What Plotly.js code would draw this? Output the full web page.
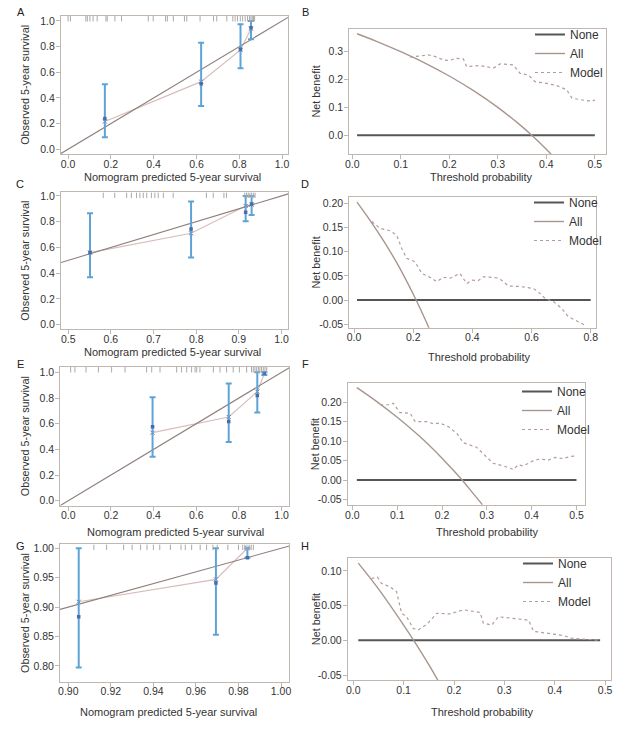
<!DOCTYPE html>
<html><head><meta charset="utf-8">
<script src="https://cdn.plot.ly/plotly-3.0.1.min.js"></script>
<style>html,body{margin:0;padding:0;background:#fff}#chart{width:633px;height:733px}</style>
</head><body><div id="chart"></div>
<script>
// ---------- Calibration data (A, C, E, G) ----------
const predA = [0.172, 0.622, 0.806, 0.855];
const obsA  = [0.240, 0.510, 0.780, 0.948];
const loA   = [0.094, 0.338, 0.631, 0.857];
const hiA   = [0.506, 0.831, 0.974, 1.000];
const corrA = [0.216, 0.527, 0.774, 0.940];
const rugA  = [0.0, 0.011, 0.083, 0.09, 0.102, 0.117, 0.136, 0.177, 0.183, 0.219, 0.25, 0.375, 0.398, 0.456, 0.464, 0.492, 0.544, 0.555, 0.617, 0.68, 0.695, 0.742, 0.77, 0.781, 0.792, 0.805, 0.816, 0.828, 0.839, 0.848, 0.855, 0.861, 0.867, 0.872];

const predC = [0.551, 0.788, 0.916, 0.930];
const obsC  = [0.560, 0.744, 0.873, 0.938];
const loC   = [0.368, 0.521, 0.803, 0.852];
const hiC   = [0.865, 0.956, 1.000, 1.000];
const corrC = [0.560, 0.710, 0.922, 0.932];
const rugC  = [0.582, 0.609, 0.637, 0.648, 0.66, 0.668, 0.676, 0.684, 0.695, 0.703, 0.711, 0.723, 0.746, 0.824, 0.84, 0.865, 0.871, 0.914, 0.918, 0.922, 0.926, 0.93, 0.934, 0.938];

const predE = [0.395, 0.752, 0.886, 0.919];
const obsE  = [0.577, 0.618, 0.820, 0.995];
const loE   = [0.343, 0.457, 0.688, 0.980];
const hiE   = [0.805, 0.914, 1.000, 1.000];
const corrE = [0.530, 0.652, 0.850, 0.990];
const rugE  = [0.011, 0.031, 0.083, 0.141, 0.203, 0.266, 0.367, 0.391, 0.43, 0.508, 0.531, 0.555, 0.578, 0.594, 0.602, 0.617, 0.68, 0.711, 0.742, 0.773, 0.802, 0.836, 0.859, 0.867, 0.875, 0.883, 0.891, 0.898, 0.906, 0.914, 0.922, 0.93];

const predG = [0.9049, 0.9694, 0.9842];
const obsG  = [0.8835, 0.941, 0.984];
const loG   = [0.797, 0.853, 0.984];
const hiG   = [1.000, 1.000, 1.000];
const corrG = [0.909, 0.947, 1.000];
const rugG  = [0.912, 0.918, 0.926, 0.93, 0.934, 0.937, 0.94, 0.943, 0.948, 0.953, 0.955, 0.958, 0.962, 0.965, 0.968, 0.97, 0.975, 0.98, 0.982, 0.983, 0.984, 0.985, 0.986, 0.987];

// ---------- Decision curve data (B, D, F, H) ----------
const noneB = {x: [0.01, 0.5], y: [0, 0]};
const allBx = [0.01, 0.05, 0.1, 0.15, 0.2, 0.25, 0.3, 0.35, 0.37, 0.4, 0.41];
const allBy = [0.364, 0.337, 0.300, 0.259, 0.2125, 0.160, 0.100, 0.031, 0.0, -0.050, -0.068];
const modBx = [0.119, 0.14, 0.157, 0.17, 0.188, 0.2, 0.215, 0.229, 0.236, 0.263, 0.291, 0.305, 0.332, 0.346, 0.363, 0.377, 0.401, 0.422, 0.442, 0.453, 0.477, 0.494, 0.5];
const modBy = [0.280, 0.283, 0.288, 0.283, 0.270, 0.268, 0.276, 0.274, 0.246, 0.250, 0.241, 0.256, 0.252, 0.222, 0.216, 0.192, 0.186, 0.178, 0.163, 0.133, 0.127, 0.121, 0.127];

const noneD = {x: [0.01, 0.8], y: [0, 0]};
const allDx = [0.01, 0.05, 0.1, 0.15, 0.2, 0.21, 0.25, 0.26];
const allDy = [0.202, 0.168, 0.122, 0.071, 0.0125, 0.0, -0.053, -0.068];
const modDx = [0.06, 0.088, 0.122, 0.144, 0.161, 0.178, 0.206, 0.229, 0.263, 0.279, 0.302, 0.325, 0.358, 0.381, 0.398, 0.42, 0.437, 0.482, 0.499, 0.522, 0.561, 0.606, 0.623, 0.646, 0.674, 0.702, 0.724, 0.758, 0.781];
const modDy = [0.162, 0.148, 0.143, 0.134, 0.107, 0.086, 0.079, 0.055, 0.045, 0.038, 0.047, 0.045, 0.055, 0.034, 0.041, 0.040, 0.048, 0.046, 0.041, 0.029, 0.028, 0.024, 0.017, 0.003, -0.003, -0.017, -0.034, -0.045, -0.052];

const noneF = {x: [0.01, 0.5], y: [0, 0]};
const allFx = [0.01, 0.05, 0.1, 0.15, 0.2, 0.245, 0.25, 0.285, 0.29];
const allFy = [0.237, 0.205, 0.161, 0.112, 0.056, 0.0, -0.007, -0.056, -0.063];
const modFx = [0.062, 0.084, 0.091, 0.106, 0.129, 0.14, 0.166, 0.181, 0.195, 0.214, 0.233, 0.247, 0.277, 0.292, 0.314, 0.337, 0.359, 0.37, 0.381, 0.403, 0.418, 0.437, 0.452, 0.47, 0.485, 0.5];
const modFy = [0.193, 0.193, 0.197, 0.173, 0.171, 0.150, 0.150, 0.144, 0.146, 0.137, 0.120, 0.096, 0.084, 0.067, 0.043, 0.036, 0.027, 0.039, 0.036, 0.049, 0.054, 0.051, 0.058, 0.055, 0.060, 0.062];

const noneH = {x: [0.01, 0.49], y: [0, 0]};
const allHx = [0.01, 0.05, 0.1, 0.12, 0.15, 0.17];
const allHy = [0.111, 0.074, 0.022, 0.0, -0.035, -0.060];
const modHx = [0.036, 0.048, 0.056, 0.073, 0.086, 0.096, 0.106, 0.119, 0.129, 0.146, 0.166, 0.192, 0.219, 0.232, 0.252, 0.258, 0.275, 0.288, 0.318, 0.348, 0.358, 0.384, 0.417, 0.434, 0.464, 0.49];
const modHy = [0.089, 0.091, 0.082, 0.077, 0.070, 0.039, 0.034, 0.017, 0.015, 0.023, 0.039, 0.038, 0.044, 0.042, 0.040, 0.025, 0.022, 0.034, 0.032, 0.029, 0.013, 0.010, 0.007, 0.003, 0.0015, 0.0];

// ---------- Layout geometry ----------
const W = 633, H = 733;
const FONT = 'Liberation Sans, Arial, sans-serif';
const TXT = '#333333';
const FRAME = '#bfb7b0';
const frames = {
  1: [61, 288, 15.7, 154], 2: [349.3, 606, 29, 154],
  3: [61, 288.3, 192.3, 329], 4: [349.3, 596, 197.3, 327.7],
  5: [60.3, 289.3, 366.7, 505.7], 6: [347.7, 585, 383.3, 505],
  7: [60, 289.3, 544.3, 681.7], 8: [347.7, 610.7, 558.3, 680]
};
const xr = {1: [-0.033, 1.028], 2: [-0.006, 0.523], 3: [0.483, 1.016], 4: [-0.016, 0.818],
            5: [-0.0375, 1.036], 6: [-0.0104, 0.519], 7: [0.8961, 1.0039], 8: [-0.011, 0.511]};
const yr = {1: [-0.037, 1.041], 2: [-0.067, 0.381], 3: [-0.033, 1.028], 4: [-0.057, 0.212],
            5: [-0.039, 1.044], 6: [-0.064, 0.248], 7: [0.773, 1.0068], 8: [-0.057, 0.118]};
const xt = {1: [0, 1, 0.2, 1], 2: [0, 0.5, 0.1, 1], 3: [0.5, 1, 0.1, 1], 4: [0, 0.8, 0.2, 1],
            5: [0, 1, 0.2, 1], 6: [0, 0.5, 0.1, 1], 7: [0.9, 1, 0.02, 2], 8: [0, 0.5, 0.1, 1]};
const yt = {1: [0, 1, 0.2, 1], 2: [0, 0.3, 0.1, 1], 3: [0, 1, 0.2, 1], 4: [-0.05, 0.2, 0.05, 2],
            5: [0, 1, 0.2, 1], 6: [-0.05, 0.2, 0.05, 2], 7: [0.8, 1, 0.05, 2], 8: [-0.05, 0.1, 0.05, 2]};
// axis title centres (px): [x-title cx, x-title cy, y-title cx]
const titlePos = {1: [172, 177, 25], 2: [481.5, 177, 315], 3: [172, 352.5, 25], 4: [479.7, 357, 315],
                  5: [175.3, 532, 25], 6: [487, 532, 315], 7: [168.3, 712, 25], 8: [482, 712, 316]};

const titleX = {cal: 'Nomogram predicted 5-year survival', dca: 'Threshold probability'};
const titleY = {cal: 'Observed 5-year survival', dca: 'Net benefit'};

function ticks(spec) {
  const [a, b, s, d] = spec; const v = [];
  for (let k = 0; a + k * s <= b + 1e-9; k++) v.push(+(a + k * s).toFixed(4));
  return {tickvals: v, ticktext: v.map(t => t.toFixed(d))};
}

const layout = {
  width: W, height: H, margin: {l: 0, r: 0, t: 0, b: 0},
  paper_bgcolor: '#ffffff', plot_bgcolor: '#ffffff',
  font: {family: FONT, size: 11, color: TXT},
  showlegend: true, annotations: []
};

for (let i = 1; i <= 8; i++) {
  const f = frames[i];
  const kind = (i % 2 === 1) ? 'cal' : 'dca';
  const common = {
    showline: true, mirror: true, linecolor: FRAME, linewidth: 1,
    ticks: 'outside', ticklen: 4, tickcolor: FRAME, showgrid: false, zeroline: false,
    tickfont: {family: FONT, size: 10.5, color: TXT}, fixedrange: true, tickmode: 'array'
  };
  layout['xaxis' + (i === 1 ? '' : i)] = Object.assign({}, common, ticks(xt[i]), {
    domain: [f[0] / W, f[1] / W], range: xr[i], anchor: 'y' + (i === 1 ? '' : i), ticklabelstandoff: -4});
  layout['yaxis' + (i === 1 ? '' : i)] = Object.assign({}, common, ticks(yt[i]), {
    domain: [1 - f[3] / H, 1 - f[2] / H], range: yr[i], anchor: 'x' + (i === 1 ? '' : i), ticklabelstandoff: -1});
  const tp = titlePos[i];
  layout.annotations.push({text: titleX[kind], xref: 'paper', yref: 'paper', x: tp[0] / W, y: 1 - tp[1] / H,
    xanchor: 'center', yanchor: 'middle', showarrow: false, font: {family: FONT, size: 11, color: TXT}});
  layout.annotations.push({text: titleY[kind], xref: 'paper', yref: 'paper', x: tp[2] / W, y: 1 - (f[2] + f[3]) / 2 / H,
    xanchor: 'center', yanchor: 'middle', textangle: -90, showarrow: false, font: {family: FONT, size: 10.8, color: TXT}});
}

const letters = ['A', 'B', 'C', 'D', 'E', 'F', 'G', 'H'];
const letterPos = [[21, 12], [305, 12], [20, 184], [305, 184], [20, 364], [305, 364], [20, 546], [305, 546]];
letters.forEach((L, k) => {
  layout.annotations.push({text: L, xref: 'paper', yref: 'paper', x: letterPos[k][0] / W, y: 1 - letterPos[k][1] / H,
    xanchor: 'center', yanchor: 'middle', showarrow: false, font: {family: FONT, size: 11, color: '#222'}});
});

const traces = [];
function ax(i) { return {xaxis: 'x' + (i === 1 ? '' : i), yaxis: 'y' + (i === 1 ? '' : i)}; }

function calPanel(i, pred, obs, lo, hi, corr, rug) {
  const r = xr[i], ry = yr[i];
  const f = frames[i];
  const pxY = (ry[1] - ry[0]) / (f[3] - f[2]);
  traces.push(Object.assign({type: 'scatter', mode: 'lines+markers', x: pred, y: corr, showlegend: false,
    line: {color: '#d8bcbc', width: 1.2}, marker: {symbol: 'x-thin', size: 4, line: {color: '#6c6c9c', width: 1}},
    hoverinfo: 'skip'}, ax(i)));
  traces.push(Object.assign({type: 'scatter', mode: 'lines', x: r, y: r, showlegend: false,
    line: {color: '#8e7f7a', width: 1.1}, hoverinfo: 'skip'}, ax(i)));
  traces.push(Object.assign({type: 'scatter', mode: 'markers', x: pred, y: obs, showlegend: false,
    marker: {symbol: 'square', size: 3.5, color: '#4a6aa8'},
    error_y: {type: 'data', symmetric: false, array: hi.map((h, k) => h - obs[k]), arrayminus: lo.map((l, k) => obs[k] - l),
      color: '#5ea3d6', thickness: 2, width: 3}, hoverinfo: 'skip'}, ax(i)));
  traces.push(Object.assign({type: 'scatter', mode: 'markers', x: rug, y: rug.map(() => ry[1] - 3 * pxY), showlegend: false,
    marker: {symbol: 'line-ns', size: 4, line: {color: '#aaaaaa', width: 1}}, hoverinfo: 'skip'}, ax(i)));
}

function dcaPanel(i, none, ax_, ay_, mx, my, legName, legPos) {
  const lg = {legend: legName};
  traces.push(Object.assign({type: 'scatter', mode: 'lines', name: 'None', x: none.x, y: none.y,
    line: {color: '#555555', width: 2}}, ax(i), lg));
  traces.push(Object.assign({type: 'scatter', mode: 'lines', name: 'All', x: ax_, y: ay_, line: {color: '#a8968e', width: 1.4, shape: 'spline'}}, ax(i), lg));
  traces.push(Object.assign({type: 'scatter', mode: 'lines', name: 'Model', x: mx, y: my,
    line: {color: '#b49c9c', width: 1.2, dash: 'dot'}}, ax(i), lg));
  layout[legName] = {x: legPos[0] / W, y: 1 - legPos[1] / H, xanchor: 'left', yanchor: 'top',
    bgcolor: 'rgba(0,0,0,0)', borderwidth: 0, font: {family: FONT, size: 12, color: TXT},
    itemwidth: 30, tracegroupgap: 0};
}

calPanel(1, predA, obsA, loA, hiA, corrA, rugA);
calPanel(3, predC, obsC, loC, hiC, corrC, rugC);
calPanel(5, predE, obsE, loE, hiE, corrE, rugE);
calPanel(7, predG, obsG, loG, hiG, corrG, rugG);
dcaPanel(2, noneB, allBx, allBy, modBx, modBy, 'legend', [530, 20]);
dcaPanel(4, noneD, allDx, allDy, modDx, modDy, 'legend2', [529, 188]);
dcaPanel(6, noneF, allFx, allFy, modFx, modFy, 'legend3', [517, 377]);
dcaPanel(8, noneH, allHx, allHy, modHx, modHy, 'legend4', [518, 549]);

Plotly.newPlot('chart', traces, layout, {staticPlot: true, displayModeBar: false});
</script></body></html>
